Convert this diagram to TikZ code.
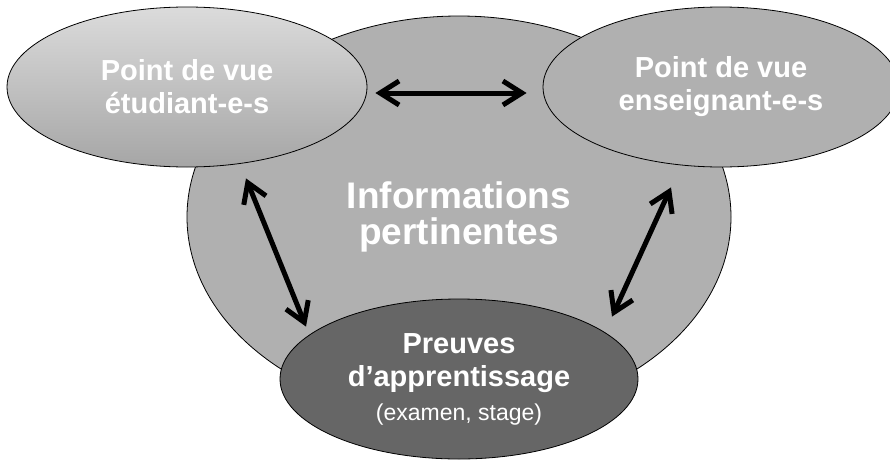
\documentclass[tikz,border=0pt]{standalone}
\usepackage{fontspec}
\setmainfont{Liberation Sans}
\usetikzlibrary{shapes.geometric,arrows.meta}

\definecolor{infogray}{HTML}{B0B0B0}
\definecolor{prevgray}{HTML}{666666}

\tikzset{
	bubble/.style={ellipse, draw=black, line width=0.8pt, text=white, align=center, inner sep=0pt,
		font=\fontsize{29}{33}\selectfont\bfseries},
	dblarrow/.style={line width=5pt, line cap=round,
		{Straight Barb[length=19pt,width=24pt]}-{Straight Barb[length=19pt,width=24pt]}}
}

\begin{document}
\begin{tikzpicture}[x=1pt, y=1pt]
		%%%%% START %%%%%
		
		\useasboundingbox (0, 0) rectangle (890, 459);
		
		\node[bubble, fill=infogray, minimum width=544, minimum height=402,
			font=\fontsize{37}{36}\selectfont\bfseries] (info) at (459, 242) {Informations\\pertinentes};
		
		\node[bubble, top color=black!14, bottom color=black!35, minimum width=360, minimum height=160] (stud) at (187, 372) {Point de vue\\étudiant-e-s};
		\node[bubble, fill=infogray, minimum width=356, minimum height=160] (teach) at (721, 372) {Point de vue\\enseignant-e-s};
		
		\node[bubble, fill=prevgray, minimum width=358, minimum height=160] (proof) at (459, 80)
			{Preuves\\d’apprentissage\\[1pt]{\mdseries\fontsize{23}{28}\selectfont (examen, stage)}};
		
		\draw[dblarrow] ([shift={(8,-6)}]stud.east) -- ([shift={(-16,-6)}]teach.west);
		\draw[dblarrow] ([shift={(59,-11)}]stud.south) -- ([shift={(-153,-28)}]proof.north);
		\draw[dblarrow] ([shift={(-50,-20)}]teach.south) -- ([shift={(153,-18)}]proof.north);
		
		%%%%% END %%%%%
	\end{tikzpicture}
\end{document}
